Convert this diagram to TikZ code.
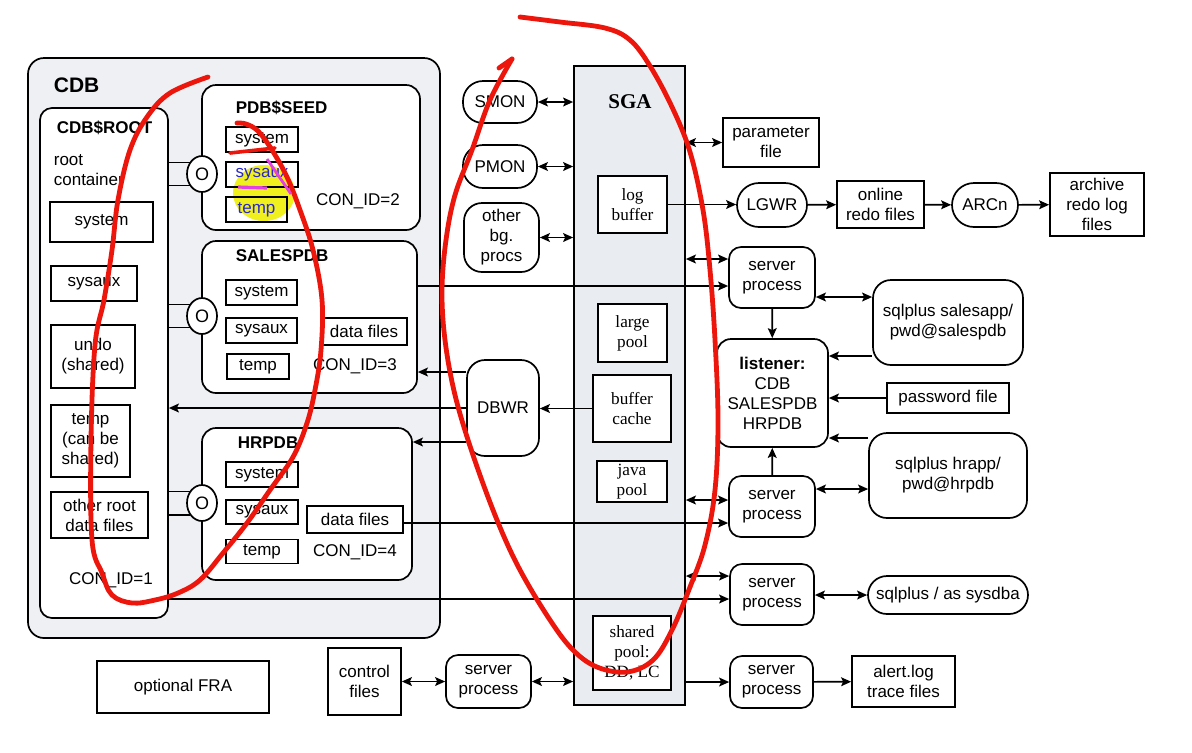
\documentclass[tikz,border=0pt]{standalone}
\usepackage{fontspec}
\setmainfont{Liberation Sans}
\newfontfamily\sgafont{Liberation Serif}
\usepackage{tikz}
\usetikzlibrary{shapes,arrows.meta,positioning,calc}
\definecolor{cdbgray}{RGB}{238,240,243}
\definecolor{sgagray}{RGB}{233,236,240}
\definecolor{penred}{RGB}{236,22,12}
\definecolor{penpink}{RGB}{226,64,226}
\definecolor{hlyellow}{RGB}{240,240,30}
\definecolor{hlblue}{RGB}{40,40,200}
\newcommand{\fs}{\fontsize{8.5}{10}\selectfont}

\begin{document}
\begin{tikzpicture}[x=0.5pt, y=-0.5pt, >={Stealth[length=5pt,width=4.4pt,inset=1pt]}, line width=0.85pt,
    box/.style={draw, inner sep=0pt, align=center, font=\fs},
    rbox/.style={box, rounded corners=#1},
    rbox/.default=6pt,
    wh/.style 2 args={minimum width=#1*0.5pt, minimum height=#2*0.5pt},
    hd/.style={inner sep=0pt, anchor=west, font=\bfseries\fs},
    lbl/.style={inner sep=0pt, font=\fs},
    mem/.style={box, fill=white, font=\sgafont\fontsize{8.6}{10}\selectfont},
    plug/.style={draw, ellipse, fill=white, inner sep=0pt, minimum width=15pt, minimum height=18pt, font=\fontsize{9}{9}\selectfont},
    pen/.style={penred, line width=2.4pt, line cap=round, line join=round}]
        \useasboundingbox[fill=white] (0,0) rectangle (1192,752);

        % CDB container
        \node[rbox=8pt, fill=cdbgray, wh={412}{580}] (cdb) at (234,348) {};
        \node[hd, font=\bfseries\fontsize{10.5}{12}\selectfont] (cdbl) at (53,85) {CDB};

        % Root container
        \node[rbox, fill=white, wh={128}{510}] (root) at (104,363) {};
        \node[hd] (rootl) at (56,128) {CDB\$ROOT};
        \node[lbl, anchor=west, align=left] (rootc) at (53,170) {root\\container};
        \node[box, wh={103}{40}] (rsys) at (101.5,222) {system};
        \node[box, wh={86}{35}] (raux) at (94,283.5) {sysaux};
        \node[box, wh={84}{63}] (rundo) at (93,356.5) {undo\\(shared)};
        \node[box, wh={79}{72}] (rtmp) at (90.5,441) {temp\\(can be\\shared)};
        \node[box, wh={97}{46}] (roth) at (99.5,515) {other root\\data files};
        \node[lbl] (rcon) at (111,580) {CON\_ID=1};

        % Seed PDB
        \node[rbox=7pt, fill=white, wh={218}{145}] (seed) at (311,157.5) {};
        \node[hd] (seedl) at (235,108) {PDB\$SEED};
        \fill[hlyellow] (264,193) ellipse [x radius=31, y radius=28];
        \node[box, wh={72}{25}] (seedsys) at (262,139.5) {system};
        \node[box, wh={72}{25}, text=hlblue] (seedaux) at (262,174.5) {sysaux};
        \node[box, wh={61}{25}, text=hlblue] (seedtmp) at (256.5,209.5) {temp};
        \node[lbl] (seedcon) at (358,201) {CON\_ID=2};

        % SALESPDB
        \node[rbox=7pt, fill=white, wh={215}{152}] (sales) at (309.5,317) {};
        \node[hd] (salesl) at (235,256) {SALESPDB};
        \node[box, wh={71}{25}] (salsys) at (261.5,292.5) {system};
        \node[box, wh={71}{25}] (salaux) at (261.5,330.5) {sysaux};
        \node[box, wh={62}{25}] (saltmp) at (258,366.5) {temp};
        \node[box, wh={86}{27}] (saldf) at (364,331.5) {data files};
        \node[lbl] (salcon) at (355,366) {CON\_ID=3};

        % HRPDB
        \node[rbox=7pt, fill=white, wh={210}{152}] (hr) at (307,504) {};
        \node[hd] (hrl) at (237,443) {HRPDB};
        \node[box, wh={72}{25}] (hrsys) at (262,474.5) {system};
        \node[box, wh={72}{24}] (hraux) at (262,512) {sysaux};
        \node[box, wh={72}{24}] (hrtmp) at (262,551.5) {temp};
        \node[box, wh={96}{27}] (hrdf) at (355,519.5) {data files};
        \node[lbl] (hrcon) at (355,552) {CON\_ID=4};

        % Plugs between root and PDBs
        \foreach \p/\y in {seedc/174, salc/316, hrc/503} {
            \node[plug] (\p) at (202,\y) {O};
            \draw (root.east |- \p.137) -- (\p.137);
            \draw (root.east |- \p.223) -- (\p.223);
        }

        % SGA
        \node[box, fill=sgagray, wh={111}{639}] (sga) at (629.5,385.5) {};
        \node[inner sep=0pt, font=\sgafont\bfseries\fontsize{10.5}{12}\selectfont] (sgal) at (630,102) {SGA};
        \node[mem, wh={69}{57}] (logbuf) at (632.5,204.5) {log\\buffer};
        \node[mem, wh={69}{58}] (large) at (632.5,333) {large\\pool};
        \node[mem, wh={78}{67}] (bufc) at (632,408.5) {buffer\\cache};
        \node[mem, wh={70}{41}] (java) at (632,481.5) {java\\pool};
        \node[mem, wh={78}{74}] (shared) at (632,653) {shared\\pool:\\DD, LC};

        % Background processes
        \node[rbox=10pt, wh={74}{42}] (smon) at (500,102) {SMON};
        \node[rbox=10pt, wh={74}{43}] (pmon) at (500,166.5) {PMON};
        \node[rbox=9pt, wh={75}{69}] (other) at (501.5,237.5) {other\\bg.\\procs};
        \node[rbox=9pt, wh={72}{96}] (dbwr) at (503,408) {DBWR};

        % Files and processes right of SGA
        \node[box, wh={96}{49}] (param) at (771,142.5) {parameter\\file};
        \node[rbox=11pt, wh={70}{44}] (lgwr) at (772,205) {LGWR};
        \node[box, wh={87}{47}] (redo) at (880.5,204.5) {online\\redo files};
        \node[rbox=11pt, wh={66}{44}] (arcn) at (985,205) {ARCn};
        \node[box, wh={94}{63}] (arch) at (1097,204.5) {archive\\redo log\\files};
        \node[rbox, wh={86}{61}] (sp1) at (772,277.5) {server\\process};
        \node[rbox=9pt, wh={150}{85}] (sqls) at (948,322.5) {sqlplus salesapp/\\pwd@salespdb};
        \node[rbox=7pt, wh={111}{108}] (lsn) at (772.5,393) {\textbf{listener:}\\CDB\\SALESPDB\\HRPDB};
        \node[box, wh={122}{30}] (pwd) at (948,398) {password file};
        \node[rbox=9pt, wh={158}{85}] (sqlh) at (948,475.5) {sqlplus hrapp/\\pwd@hrpdb};
        \node[rbox, wh={86}{61}] (sp2) at (772,506.5) {server\\process};
        \node[rbox, wh={84}{61}] (sp3) at (772,594.5) {server\\process};
        \node[rbox=9.5pt, wh={160}{38}] (sqld) at (948,595) {sqlplus / as sysdba};
        \node[rbox, wh={83}{52}] (sp4) at (771.5,682) {server\\process};
        \node[box, wh={103}{51}] (alert) at (903.5,681.5) {alert.log\\trace files};

        % Bottom row
        \node[box, wh={172}{52}] (fra) at (183,687) {optional FRA};
        \node[box, wh={73}{67}] (ctl) at (364.5,681.5) {control\\files};
        \node[rbox, wh={85}{53}] (sp5) at (488.5,681.5) {server\\process};

        % Connectors
        \foreach \b in {smon, pmon, other}
            \draw[<->] (\b.east) -- (\b.east -| sga.west);
        \draw[<->] (sga.east |- param.west) -- (param.west);
        \draw[->] (logbuf.east) -- (logbuf.east -| lgwr.west);
        \draw[->] (lgwr) -- (redo);
        \draw[->] (redo) -- (arcn);
        \draw[->] (arcn) -- (arch);
        \draw[<->] (sga.east |- 0,259) -- (sp1.west |- 0,259);
        \draw[->] (sales.east |- 0,286) -- (sp1.west |- 0,286);
        \draw[<->] (sp1.east |- 0,297) -- (sqls.west |- 0,297);
        \draw[->] (sp1) -- (lsn);
        \draw[->] (sqls.west |- 0,356) -- (lsn.east |- 0,356);
        \draw[->] (pwd.west) -- (pwd.west -| lsn.east);
        \draw[->] (sqlh.west |- 0,438) -- (lsn.east |- 0,438);
        \draw[->] (sp2) -- (lsn);
        \draw[<->] (sga.east |- 0,500) -- (sp2.west |- 0,500);
        \draw[->] (hrdf.east |- 0,523) -- (sp2.west |- 0,523);
        \draw[<->] (sp2.east |- 0,489) -- (sqlh.west |- 0,489);
        \draw[<->] (sga.east |- 0,576) -- (sp3.west |- 0,576);
        \draw[->] (root.east |- 0,599) -- (sp3.west |- 0,599);
        \draw[<->] (sp3.east |- sqld.west) -- (sqld.west);
        \draw[->] (sga.east |- sp4.west) -- (sp4.west);
        \draw[->] (sp4) -- (alert);
        \draw[<->] (ctl) -- (sp5);
        \draw[<->] (sp5.east) -- (sp5.east -| sga.west);
        \draw[->] (bufc.west) -- (bufc.west -| dbwr.east);
        \draw[->] (dbwr.west |- 0,372) -- (sales.east |- 0,372);
        \draw[->] (dbwr.west) -- (dbwr.west -| root.east);
        \draw[->] (dbwr.west |- 0,442) -- (hr.east |- 0,442);

        % Pen marks
        \draw[pen] plot[smooth, tension=0.6] coordinates {(208,77) (170,93) (147,117) (130,150) (118,200) (112,250) (104,300) (95,345) (91,440) (92,540) (102,573) (112,595) (132,603) (155,600) (178,593) (200,580) (223,553) (247,523) (270,490) (293,457) (307,423) (315,390) (321,350) (322,300) (313,250) (300,210) (287,177) (272,150) (258,131) (246,124) (237,123)};
        \draw[pen, line width=1.8pt] (230,153) -- (275,148);
        \draw[penpink, line width=1.4pt] (267,159) -- (291,194);
        \draw[penpink, line width=1.6pt] (238,187) -- (267,188);
        \draw[pen] plot[smooth, tension=0.6] coordinates {(520,17) (560,22) (605,28) (630,40) (650,66) (672,107) (690,152) (703,210) (710,270) (715,340) (718,420) (715,490) (705,545) (690,587) (672,630) (653,660) (627,672) (597,667) (573,650) (550,620) (520,570) (497,520) (473,455) (455,395) (445,340) (442,290) (446,240) (455,195) (472,150) (490,100) (512,59)};
        \draw[pen] (512,59) -- (499,68);
\end{tikzpicture}
\end{document}
